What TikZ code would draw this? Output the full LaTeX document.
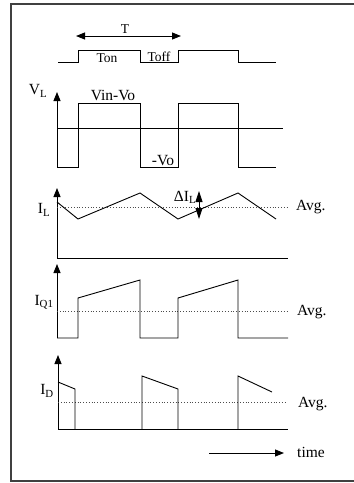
\documentclass[tikz,border=0pt]{standalone}
\usepackage{fontspec}
\setmainfont{Liberation Serif}
\usetikzlibrary{arrows.meta}
\begin{document}
\begin{tikzpicture}[x=1pt,y=-1pt,
  wave/.style={line width=0.9pt,line join=miter},
  axisline/.style={line width=0.9pt,-{Triangle[length=9pt,width=7pt]}},
  avgline/.style={dotted,line width=0.8pt,black!70},
  lbl/.style={inner sep=0pt,font=\fontsize{15.5}{17}\selectfont},
  slbl/.style={inner sep=0pt,font=\fontsize{13.5}{15}\selectfont}]
\useasboundingbox (0,0) rectangle (354,483);
% frame
\draw[line width=1.1pt,black!75] (354,4) -- (11,4) -- (11,481) -- (354,481);

% timing signal
\draw[wave] (58,62) -- (78,62) -- (78,50) -- (140,50) -- (140,62) -- (178,62) -- (178,50) -- (238,50) -- (238,62) -- (276,62);
\coordinate (tL) at (76,36);
\coordinate (tR) at (181,36);
\draw[line width=0.9pt,{Triangle[length=9pt,width=7pt]}-{Triangle[length=9pt,width=7pt]}] (tL) -- (tR);
\node[slbl] (T) at (125,29) {T};
\node[slbl] (ton) at (107,58) {Ton};
\node[slbl] (toff) at (159,57) {Toff};

% V_L
\coordinate (v0) at (57,167);
\coordinate (v1) at (57,92);
\draw[axisline] (v0) -- (v1);
\draw[wave] (57,128) -- (283,128);
\draw[wave] (57,167) -- (78,167) -- (78,103) -- (140,103) -- (140,167) -- (178,167) -- (178,103) -- (238,103) -- (238,167) -- (276,167);
\node[lbl] (vl) at (38,91) {V\textsubscript{L}};
\node[lbl] (vinvo) at (113,95) {Vin-Vo};
\node[lbl] (mvo) at (163,161) {-Vo};

% I_L
\coordinate (il0) at (57,258);
\coordinate (il1) at (57,188);
\draw[axisline] (il0) -- (il1);
\draw[wave] (57,258) -- (288,258);
\draw[avgline] (57,207) -- (288,207);
\draw[wave] (57,202) -- (78,219) -- (140,193) -- (178,219) -- (238,193) -- (276,219);
\node[lbl] (il) at (44,210) {I\textsubscript{L}};
\node[lbl] (dil) at (185,197) {ΔI\textsubscript{L}};
\coordinate (d0) at (199,191);
\coordinate (d1) at (199,219);
\draw[line width=0.9pt,{Triangle[length=11pt,width=7pt]}-{Triangle[length=11pt,width=7pt]}] (d0) -- (d1);
\node[lbl,anchor=west] (avg1) at (296,207) {Avg.};

% I_Q1
\coordinate (q0) at (57,338);
\coordinate (q1) at (57,264);
\draw[axisline] (q0) -- (q1);
\draw[avgline] (57,311) -- (288,311);
\draw[wave] (57,338) -- (78,338) -- (78,298) -- (140,280) -- (140,338) -- (178,338) -- (178,298) -- (238,280) -- (238,338) -- (288,338);
\node[lbl] (iq) at (44,302) {I\textsubscript{Q1}};
\node[lbl,anchor=west] (avg2) at (297,312) {Avg.};

% I_D
\coordinate (id0) at (58,429);
\coordinate (id1) at (58,355);
\draw[axisline] (id0) -- (id1);
\draw[wave] (58,429) -- (288,429);
\draw[avgline] (58,402) -- (285,402);
\draw[wave] (58,382) -- (75,389) -- (75,429);
\draw[wave] (142,429) -- (142,376) -- (178,389) -- (178,429);
\draw[wave] (238,429) -- (238,376) -- (272,392);
\node[lbl] (id) at (47,391) {I\textsubscript{D}};
\node[lbl,anchor=west] (avg3) at (298,404) {Avg.};

% time
\coordinate (ta) at (209,453);
\coordinate (tb) at (284,453);
\draw[line width=0.9pt,-{Triangle[length=9pt,width=7pt]}] (ta) -- (tb);
\node[lbl,anchor=west] (time) at (297,452) {time};
\end{tikzpicture}
\end{document}
